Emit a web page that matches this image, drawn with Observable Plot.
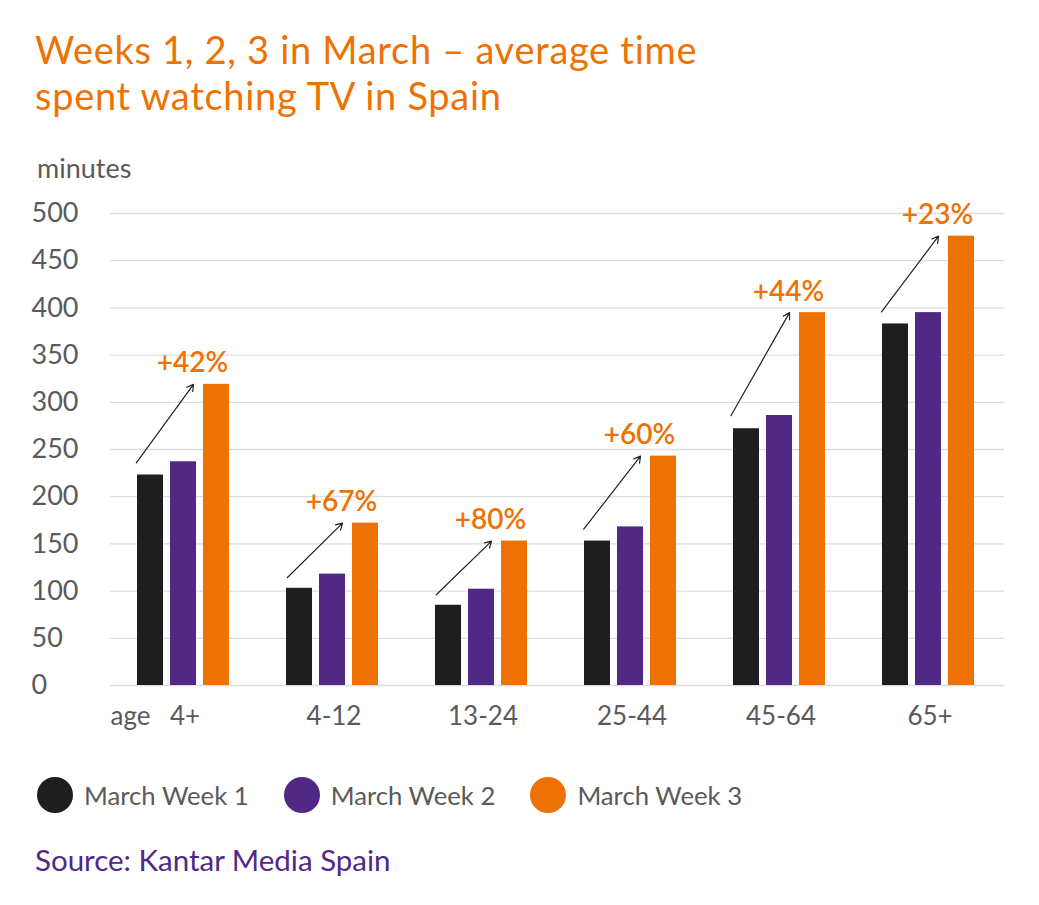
<!DOCTYPE html>
<html><head><meta charset="utf-8">
<script src="https://cdn.jsdelivr.net/npm/d3@7"></script>
<script src="https://cdn.jsdelivr.net/npm/@observablehq/plot@0.6"></script>
<style>
body{margin:0;background:#fff;font-family:Lato,"Noto Sans",sans-serif;}
#root{position:relative;width:1039px;height:905px;overflow:hidden;}
#title{position:absolute;left:35px;top:26px;font-size:38px;line-height:46px;letter-spacing:0.7px;color:#ee7203;white-space:nowrap;}
#unit{position:absolute;left:37px;top:151px;font-size:27px;color:#5a5a5a;}
#chart{position:absolute;left:0;top:150px;}
#legend{position:absolute;left:37px;top:777px;display:flex;align-items:center;font-size:25.7px;color:#5a5a5a;}
.item{display:flex;align-items:center;margin-right:35px;}
.dot{width:36px;height:36px;border-radius:50%;margin-right:11px;}
#source{position:absolute;left:35px;top:842px;font-size:29.5px;color:#512885;}
</style></head>
<body><div id="root">
<div id="title">Weeks 1, 2, 3 in March – average time<br>spent watching TV in Spain</div>
<div id="unit">minutes</div>
<div id="chart"></div>
<div id="legend"></div>
<div id="source">Source: Kantar Media Spain</div>
</div>
<script>
const groups = ["4+", "4-12", "13-24", "25-44", "45-64", "65+"];
const weeks = ["March Week 1", "March Week 2", "March Week 3"];
const week1 = [223, 103, 85, 153, 272, 383];
const week2 = [237, 118, 102, 168, 286, 395];
const week3 = [319, 172, 153, 243, 395, 476];
const changes = ["+42%", "+67%", "+80%", "+60%", "+44%", "+23%"];
const yTicks = [0, 50, 100, 150, 200, 250, 300, 350, 400, 450, 500];
const colors = ["#1e1e1e", "#512885", "#ee7203"];

const series = [week1, week2, week3];
const data = [];
groups.forEach((g, i) => weeks.forEach((w, j) => data.push({group: g, week: w, value: series[j][i]})));
const arrows = groups.map((g, i) => ({group: g, from: week1[i], to: week3[i], label: changes[i]}));

const chart = Plot.plot({
  width: 1039, height: 600,
  marginTop: 63, marginBottom: 65, marginLeft: 108, marginRight: 34,
  fx: {domain: groups, padding: 0},
  x: {domain: weeks, paddingInner: 0.224, paddingOuter: 0.84, axis: null},
  y: {domain: [0, 500]},
  color: {domain: weeks, range: colors},
  style: {fontFamily: "Lato, 'Noto Sans', sans-serif", fontSize: "25px", color: "#5a5a5a", background: "transparent"},
  marks: [
    Plot.gridY(yTicks, {stroke: "#dddddd", strokeOpacity: 1, strokeWidth: 1.3}),
    Plot.axisY(yTicks, {tickSize: 0, textAnchor: "start", dx: -70, label: null, fill: "#5a5a5a", fontSize: 27}),
    Plot.axisFx({anchor: "bottom", tickSize: 0, tickPadding: 21, label: null, fill: "#5a5a5a", fontSize: 26}),
    Plot.barY(data, {fx: "group", x: "week", y: "value", fill: "week", dx: -2}),
    Plot.arrow(arrows, {fx: "group", x1: () => weeks[0], x2: () => weeks[2], y1: "from", y2: "to",
      dx: -25, insetStart: 15, stroke: "#222", strokeWidth: 1.2, headLength: 9}),
    Plot.text(arrows, {fx: "group", x: () => weeks[2], y: "to", text: "label", dx: -26, dy: -12,
      lineAnchor: "bottom", fill: "#ee7203", fontSize: 28, fontWeight: 600}),
    Plot.text([{group: groups[0]}], {fx: "group", text: () => "age", frameAnchor: "bottom-left",
      textAnchor: "start", lineAnchor: "top", dy: 21, fill: "#5a5a5a", fontSize: 26})
  ]
});
document.getElementById("chart").appendChild(chart);

const legend = document.getElementById("legend");
weeks.forEach((w, i) => {
  const item = document.createElement("div");
  item.className = "item";
  const dot = document.createElement("span");
  dot.className = "dot";
  dot.style.background = colors[i];
  const lab = document.createElement("span");
  lab.textContent = w;
  item.appendChild(dot); item.appendChild(lab);
  legend.appendChild(item);
});
</script>
</body></html>
